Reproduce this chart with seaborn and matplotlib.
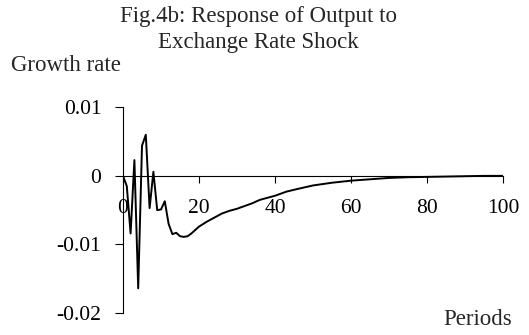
import matplotlib
matplotlib.use("Agg")
import matplotlib.pyplot as plt
import seaborn as sns
import pandas as pd

# ---- data ----
periods = [0, 1, 2, 3, 4, 5, 6, 7, 8, 9, 10, 11, 12, 13, 14, 15, 16, 17, 18, 19,
           20, 22, 24, 26, 28, 30, 32, 34, 36, 38, 40, 43, 46, 50, 55, 60, 65,
           70, 75, 80, 85, 90, 95, 100]
response = [0.0, -0.0015, -0.0084, 0.0023, -0.0164, 0.0044, 0.0060, -0.0047,
            0.0006, -0.0050, -0.0049, -0.0037, -0.0070, -0.0085, -0.0083,
            -0.0088, -0.0089, -0.0088, -0.0084, -0.0079,
            -0.0074, -0.0067, -0.0061, -0.0055, -0.0051, -0.0048, -0.0044,
            -0.0040, -0.0035, -0.0032, -0.0029, -0.0023, -0.0019, -0.0014,
            -0.0010, -0.0007, -0.0005, -0.0003, -0.0002, -0.00015, -0.0001,
            -0.00005, 0.0, 0.0]
x_ticks = [0, 20, 40, 60, 80, 100]
y_ticks = [0.01, 0.0, -0.01, -0.02]
y_tick_labels = ["0.01", "0", "-0.01", "-0.02"]
title = "Fig.4b: Response of Output to\nExchange Rate Shock"
y_label = "Growth rate"
x_label = "Periods"

df = pd.DataFrame({"Period": periods, "Response": response})

sns.set_theme(style="white")
plt.rcParams["font.family"] = ["Liberation Serif", "DejaVu Serif"]
FS_TEXT = 16.5
FS_TICK = 15.5

fig = plt.figure(figsize=(5.29, 3.35), dpi=100)
ax = fig.add_axes([123 / 529, 22 / 335, 380 / 529, 205.7 / 335])

sns.lineplot(data=df, x="Period", y="Response", ax=ax, color="black",
             linewidth=1.4, legend=False)

ax.set_xlim(0, 100)
ax.set_ylim(-0.02, 0.01)
ax.set_xticks(x_ticks)
ax.set_xticklabels([str(t) for t in x_ticks])
ax.set_yticks(y_ticks)
ax.set_yticklabels(y_tick_labels)
ax.set_xlabel("")
ax.set_ylabel("")

for s in ["top", "right"]:
    ax.spines[s].set_visible(False)
ax.spines["bottom"].set_position(("data", 0))
for s in ["left", "bottom"]:
    ax.spines[s].set_color("black")
    ax.spines[s].set_linewidth(0.8)

ax.tick_params(axis="x", direction="out", length=5, width=0.8, colors="black",
               pad=11.5, labelsize=FS_TICK, bottom=True)
ax.tick_params(axis="y", direction="out", length=5.5, width=0.8, colors="black",
               pad=10, labelsize=FS_TICK, left=True)
ax.grid(False)

fig.text(258 / 529, 1 - 6 / 335, title, ha="center", va="top",
         fontsize=FS_TEXT, linespacing=1.3)
fig.text(11 / 529, 1 - 71 / 335, y_label, ha="left", va="baseline",
         fontsize=FS_TEXT)
fig.text(512 / 529, 1 - 325 / 335, x_label, ha="right", va="baseline",
         fontsize=FS_TEXT)

fig.savefig("out.png", dpi=100)
